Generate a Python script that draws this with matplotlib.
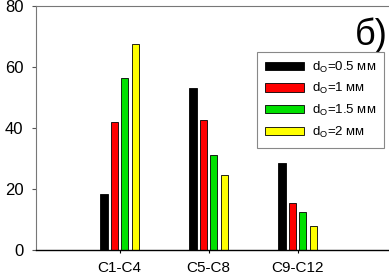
import numpy as np
import matplotlib
matplotlib.use('Agg')
from matplotlib import pyplot as plt

plt.rcParams['font.family'] = ['Liberation Sans', 'DejaVu Sans']
plt.rcParams['mathtext.fontset'] = 'custom'
plt.rcParams['mathtext.rm'] = 'Liberation Sans'

groups = ['C1-C4', 'C5-C8', 'C9-C12']
series = ['d$_\\mathrm{O}$=0.5 мм', 'd$_\\mathrm{O}$=1 мм',
          'd$_\\mathrm{O}$=1.5 мм', 'd$_\\mathrm{O}$=2 мм']
colors = ['#000000', '#ff0000', '#00e000', '#ffff00']
d05 = [18.3, 53.0, 28.5]
d1 = [42.1, 42.6, 15.5]
d15 = [56.5, 31.1, 12.5]
d2 = [67.6, 24.6, 7.9]
values = [d05, d1, d15, d2]

fig = plt.figure(figsize=(3.89, 2.78), dpi=100)
ax = fig.add_axes([36 / 389, 28 / 278, 1 - 36 / 389 + 0.01, 244 / 278])

x = np.arange(len(groups))
w = 0.08
step = 0.117
for i, (vals, c, lab) in enumerate(zip(values, colors, series)):
    ax.bar(x + (i - 1.5) * step, vals, width=w, color=c,
           edgecolor='black', linewidth=0.6, label=lab)

ax.set_xlim(-0.94, 3.07)
ax.set_ylim(0, 80)
ax.set_xticks(x)
ax.set_xticklabels(groups, fontsize=11)
ax.set_yticks([0, 20, 40, 60, 80])
ax.tick_params(axis='y', labelsize=12, length=3, width=0.8, color='#555555', pad=6)
ax.tick_params(axis='x', length=2, width=0.8, pad=6)
for s in ['left', 'top', 'right']:
    ax.spines[s].set_color('#777777')
    ax.spines[s].set_linewidth(0.8)
ax.spines['bottom'].set_color('black')
ax.spines['bottom'].set_linewidth(1.0)

leg = ax.legend(loc='upper left', bbox_to_anchor=(0.6, 0.84), fontsize=9.5,
                frameon=True, fancybox=False, framealpha=1, edgecolor='#888888',
                handlelength=3.0, handleheight=0.6, labelspacing=0.5,
                borderpad=0.6, handletextpad=0.6)
leg.get_frame().set_linewidth(0.8)

ax.text(0.985, 0.955, 'б)', transform=ax.transAxes, ha='right', va='top', fontsize=26)

fig.savefig('out.png', dpi=100)
